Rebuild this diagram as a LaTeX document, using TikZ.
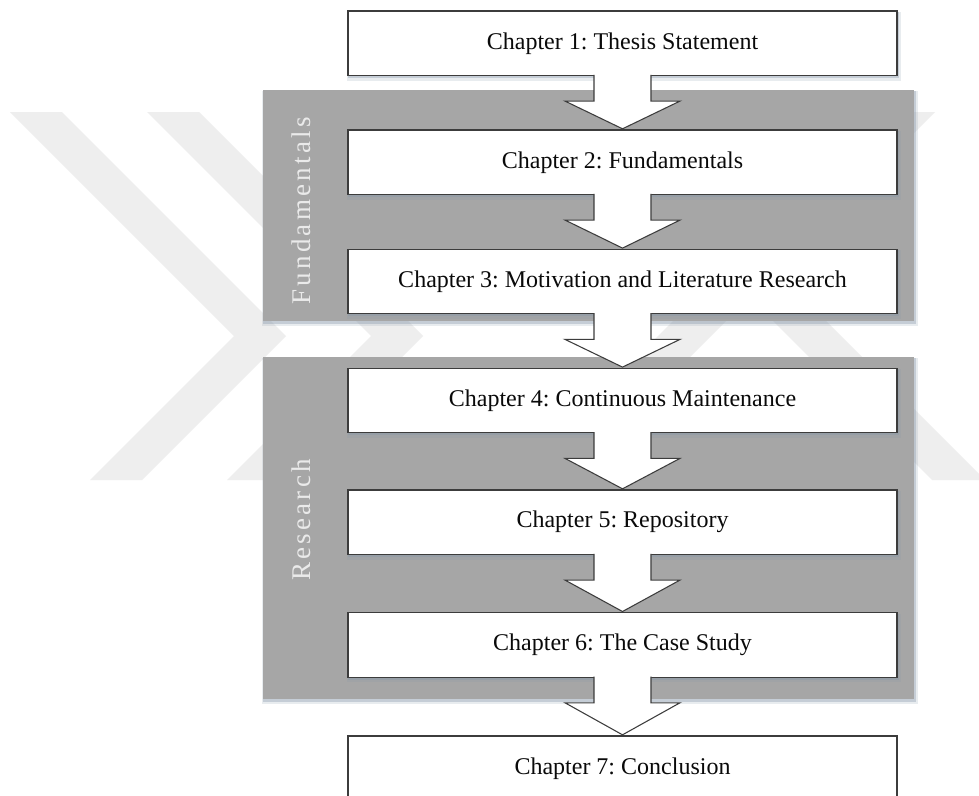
\documentclass[tikz,border=0pt]{standalone}
\usepackage{fontspec}
\setmainfont{Liberation Serif}
\newfontfamily\bandfont[LetterSpace=12]{Liberation Serif}
\usetikzlibrary{calc}
\frenchspacing

\definecolor{panelgray}{HTML}{A6A6A6}
\definecolor{markgray}{HTML}{EEEEEE}
\definecolor{edgegray}{HTML}{3C3C3C}
\definecolor{shadowtone}{HTML}{8596A8}
\definecolor{bandtext}{HTML}{EAEAEA}
\definecolor{chaptext}{HTML}{0A0A0A}

% block arrow from the bottom of one chapter box to the top of the next
\newcommand\chaparrow[2]{%
  \filldraw[chapflow]
    ($(#1.south)+(-28.5,-1.2)$) -- ($(#1.south)+(-28.5,25)$) -- ($(#1.south)+(-57.5,25)$)
    -- ($(#2.north)+(0,-0.6)$)
    -- ($(#1.south)+(57.5,25)$) -- ($(#1.south)+(28.5,25)$) -- ($(#1.south)+(28.5,-1.2)$);}

% soft shadow under a rectangle given by its corners
\newcommand\softshadow[4]{%
  \fill[shadowtone, opacity=0.18] (#1-1,#2+1) rectangle (#3+3.5,#4+5);
  \fill[shadowtone, opacity=0.35] (#1,#2+1) rectangle (#3+1.8,#4+2.6);}

\begin{document}
\begin{tikzpicture}[x=0.75pt, y=-0.75pt,
  chapbox/.style={draw=edgegray, fill=white, line width=0.85pt,
    minimum width=411.75pt, minimum height=48.4pt, inner sep=0pt,
    text=chaptext, font=\fontsize{18}{21}\selectfont},
  chapflow/.style={draw=edgegray, fill=white, line width=0.8pt, line join=miter},
  bandpanel/.style={fill=panelgray, draw=none},
  bandlabel/.style={rotate=90, inner sep=0pt, text=bandtext,
    font=\bandfont\fontsize{20.25}{24}\selectfont},
  mark/.style={fill=markgray, draw=none}]

\useasboundingbox (0,0) rectangle (979,796);
\clip (0,0) rectangle (979,796);
\fill[white] (0,0) rectangle (979,796);

% faint background emblem
\fill[markgray] (10,112) -- (62,112) -- (286,336) -- (142,480) -- (90,480) -- (234,336) -- cycle;
\fill[markgray] (147,112) -- (199,112) -- (423,336) -- (279,480) -- (227,480) -- (371,336) -- cycle;
\fill[markgray] (564,112) -- (617,112) -- (985,480) -- (932,480) -- cycle;
\fill[markgray] (882,112) -- (935,112) -- (567,480) -- (514,480) -- cycle;

% grouping panels
\softshadow{263}{90}{914}{321}
\softshadow{263}{357}{914}{699}
\fill[bandpanel] (263,90) rectangle (914,321);
\fill[bandpanel] (263,357) rectangle (914,699);

% chapter boxes
\softshadow{348}{11}{897}{75.5}
\softshadow{348}{130}{897}{194.5}
\softshadow{348}{249.3}{897}{313.8}
\softshadow{348}{368.3}{897}{432.8}
\softshadow{348}{490}{897}{554.5}
\softshadow{348}{612.7}{897}{677.2}
\node[chapbox] (c1) at (622.5,43.25) {Chapter 1: Thesis Statement};
\node[chapbox] (c2) at (622.5,162.25) {Chapter 2: Fundamentals};
\node[chapbox] (c3) at (622.5,281.55) {Chapter 3: Motivation and Literature Research};
\node[chapbox] (c4) at (622.5,400.55) {Chapter 4: Continuous Maintenance};
\node[chapbox] (c5) at (622.5,522.25) {Chapter 5: Repository};
\node[chapbox] (c6) at (622.5,644.95) {Chapter 6: The Case Study};
\node[chapbox] (c7) at (622.5,768.25) {Chapter 7: Conclusion};

% flow between chapters
\chaparrow{c1}{c2}
\chaparrow{c2}{c3}
\chaparrow{c3}{c4}
\chaparrow{c4}{c5}
\chaparrow{c5}{c6}
\chaparrow{c6}{c7}

% panel titles
\node[bandlabel] (lf) at (301,211) {Fundamentals};
\node[bandlabel] (lr) at (301,520) {Research};
\end{tikzpicture}
\end{document}
